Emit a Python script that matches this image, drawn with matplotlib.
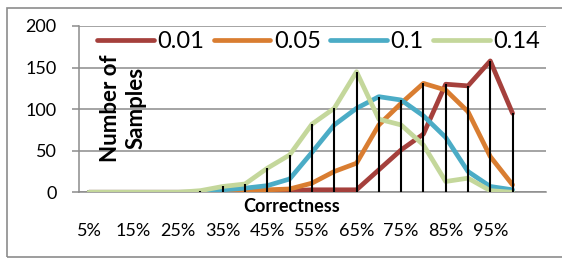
import matplotlib
matplotlib.use('Agg')
import matplotlib.pyplot as plt
from matplotlib.patches import Rectangle

plt.rcParams['font.family'] = ['Lato', 'DejaVu Sans']

# correctness buckets (5% .. 100%)
categories = ['5%', '10%', '15%', '20%', '25%', '30%', '35%', '40%', '45%', '50%',
              '55%', '60%', '65%', '70%', '75%', '80%', '85%', '90%', '95%', '100%']

series_names = ['0.01', '0.05', '0.1', '0.14']
s001 = [0, 0, 0, 0, 0, 0, 0, 0, 1, 2, 3, 3, 3, 27, 51, 70, 130, 128, 158, 95]
s005 = [0, 0, 0, 0, 0, 0, 1, 2, 3, 4, 11, 25, 35, 81, 107, 131, 123, 97, 43, 9]
s010 = [0, 0, 0, 0, 0, 0, 3, 5, 8, 16, 48, 81, 101, 115, 111, 92, 66, 25, 7, 3]
s014 = [0, 0, 0, 0, 0, 2, 7, 10, 29, 45, 82, 101, 145, 88, 81, 57, 13, 17, 2, 0]

colors = ['#A5403C', '#D97D31', '#4BACC6', '#C4D79B']

W, H = 562, 258
fig = plt.figure(figsize=(W / 100, H / 100), dpi=100)
ax = fig.add_axes([79 / W, 1 - 192.3 / H, (546 - 79) / W, (192.3 - 26) / H])

x = list(range(len(categories)))
all_series = [s001, s005, s010, s014]
for vals, name, c in zip(all_series, series_names, colors):
    ax.plot(x, vals, color=c, lw=3.4, label=name,
            solid_capstyle='round', solid_joinstyle='round', zorder=3)

# drop lines from highest point down to the axis
tops = [max(v) for v in zip(*all_series)]
ax.vlines(x, 0, tops, color='black', lw=1.5, zorder=4)

ax.set_ylim(0, 200)
ax.set_xlim(-0.45, 20.5)
ax.set_yticks([0, 50, 100, 150, 200])
ax.set_xticks(x[::2])
ax.set_xticklabels(categories[::2])
ax.grid(axis='y', color='#8C8C8C', lw=1.1)
ax.set_axisbelow(True)
for s in ['top', 'right']:
    ax.spines[s].set_visible(False)
ax.spines['left'].set_color('#8C8C8C')
ax.spines['left'].set_linewidth(1.1)
ax.spines['bottom'].set_color('#8C8C8C')
ax.spines['bottom'].set_linewidth(1.1)
ax.tick_params(axis='y', length=5, width=1.1, color='#8C8C8C', pad=11, labelsize=13)
ax.tick_params(axis='x', length=0, pad=22, labelsize=13)

ax.set_xlabel('Correctness', fontsize=13, fontweight='bold', va='center')
ax.xaxis.set_label_coords((292 - 79) / 467, (192.3 - 207) / 166.3)
ax.set_ylabel('Number of\nSamples', fontsize=16, fontweight='bold',
              va='center', linespacing=1.25)
ax.yaxis.set_label_coords((123 - 79) / 467, (192.3 - 108) / 166.3)

ax.legend(loc='center', bbox_to_anchor=((318.5 - 79) / 467, (192.3 - 42) / 166.3),
          ncol=4, frameon=False, fontsize=17, handlelength=2.4,
          handletextpad=0.15, columnspacing=0.4, borderpad=0, borderaxespad=0)

fig.patches.append(Rectangle((7 / W, 1 / H), 1.2, (257 - 8) / H, transform=fig.transFigure,
                             fill=False, edgecolor='#8C8C8C', lw=1.2))

fig.savefig('out.png', dpi=100)
